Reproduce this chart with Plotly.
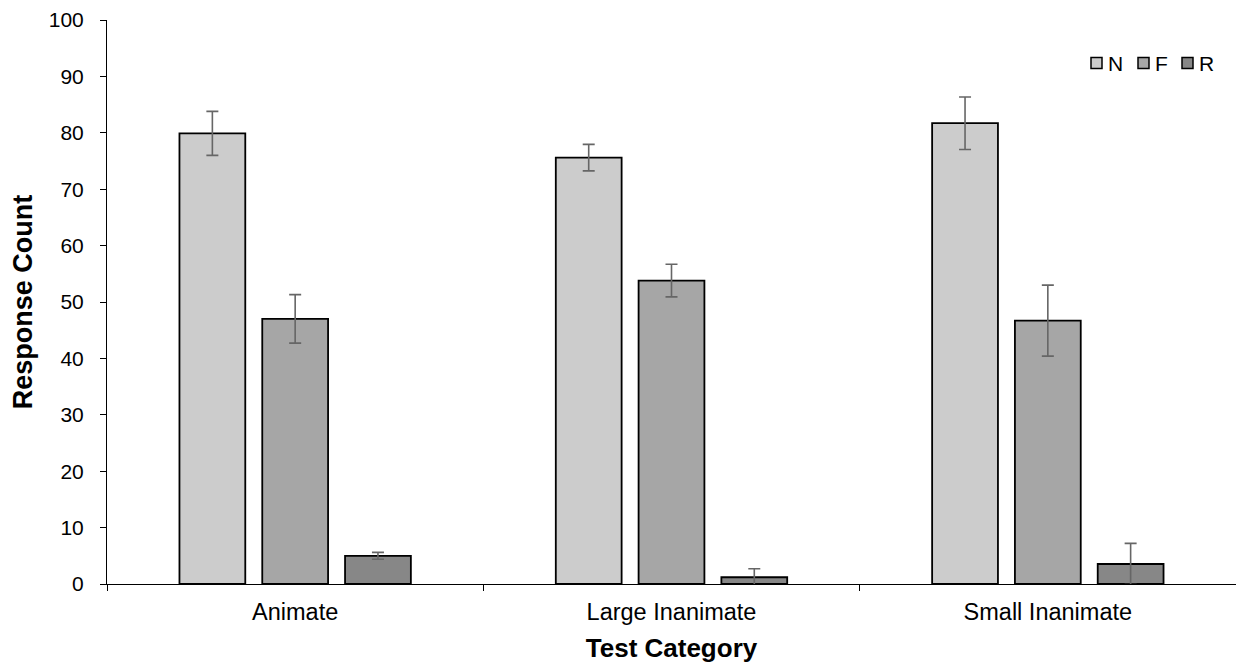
import plotly.graph_objects as go

categories = ["Animate", "Large Inanimate", "Small Inanimate"]
series_names = ["N", "F", "R"]
n_values = [79.9, 75.6, 81.7]
n_errors = [3.9, 2.35, 4.65]
f_values = [47.0, 53.8, 46.7]
f_errors = [4.3, 2.9, 6.3]
r_values = [5.0, 1.2, 3.55]
r_errors = [0.6, 1.5, 3.65]
y_ticks = list(range(0, 101, 10))

colors = ["#CCCCCC", "#A6A6A6", "#878787"]
values = [n_values, f_values, r_values]
errors = [n_errors, f_errors, r_errors]

# plot area in pixels (for legend placement)
L, R, T, B, W, H = 107, 0, 20, 83, 1236, 667
pw, ph = W - L - R, H - T - B

def px_x(px):
    return (px - L) / pw

def px_y(py):
    return (H - B - py) / ph

fig = go.Figure()
for name, vals, errs, col in zip(series_names, values, errors, colors):
    fig.add_trace(go.Bar(
        name=name, x=categories, y=vals,
        marker=dict(color=col, line=dict(color="#000000", width=1.8)),
        error_y=dict(type="data", array=errs, visible=True,
                     color="#666666", thickness=1.6, width=6),
        showlegend=False,
    ))

# custom compact legend (top right)
legend_icon_left = [1091, 1138, 1182]
legend_cy = 63
for name, col, xl in zip(series_names, colors, legend_icon_left):
    fig.add_shape(type="rect", xref="paper", yref="paper",
                  x0=px_x(xl), x1=px_x(xl + 11),
                  y0=px_y(legend_cy + 5.5), y1=px_y(legend_cy - 5.5),
                  fillcolor=col, line=dict(color="#000000", width=1.5))
    fig.add_annotation(xref="paper", yref="paper", x=px_x(xl + 15), y=px_y(legend_cy),
                       text=name, showarrow=False, xanchor="left", yanchor="middle",
                       font=dict(size=21, color="#000000"))

fig.update_layout(
    width=W, height=H,
    margin=dict(l=L, r=R, t=T, b=B),
    paper_bgcolor="white", plot_bgcolor="white",
    barmode="group", bargap=0.34, bargroupgap=0.205,
    font=dict(family="Arial, Liberation Sans, sans-serif", size=21, color="#000000"),
    showlegend=False,
    xaxis=dict(
        title=dict(text="<b>Test Category</b>", font=dict(size=26), standoff=14),
        showline=True, linecolor="#000000", linewidth=1,
        ticks="outside", tickson="boundaries", ticklen=6, tickcolor="#000000",
        tickfont=dict(size=23.5), ticklabelstandoff=7,
        showgrid=False, zeroline=False,
    ),
    yaxis=dict(
        title=dict(text="<b>Response Count</b>", font=dict(size=27), standoff=8),
        range=[0, 100], tickvals=y_ticks,
        showline=True, linecolor="#000000", linewidth=1,
        ticks="outside", ticklen=6, tickcolor="#000000",
        tickfont=dict(size=21), ticklabelstandoff=12,
        showgrid=False, zeroline=False,
    ),
)

fig.write_html("out.html")
